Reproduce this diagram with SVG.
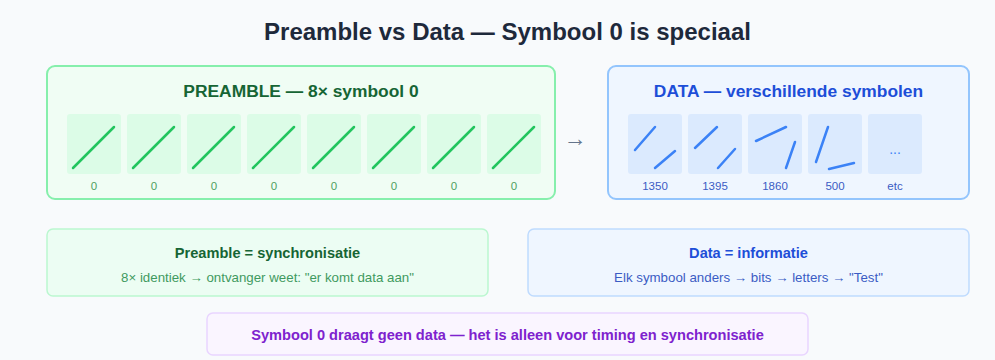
<svg xmlns="http://www.w3.org/2000/svg" width="995" height="360" viewBox="0 0 995 360">
  <style>
    text { font-family: "Liberation Sans", Arial, sans-serif; text-anchor: middle; }
    .title { font-size: 24px; font-weight: bold; fill: #1e293b; }
    .h-green { font-size: 17.4px; font-weight: bold; fill: #166534; }
    .h-blue { font-size: 17.4px; font-weight: bold; fill: #1d4ed8; }
    .cell-g { fill: #dcfce7; }
    .cell-b { fill: #dbeafe; }
    .ln-g { stroke: #22c55e; stroke-width: 2.5; stroke-linecap: round; }
    .ln-b { stroke: #3b82f6; stroke-width: 2.5; stroke-linecap: round; }
    .lab-g { font-size: 11.5px; fill: #4f9f62; }
    .lab-b { font-size: 11.5px; fill: #3b5cc4; }
    .sub-title-g { font-size: 14.6px; font-weight: bold; fill: #166534; }
    .sub-title-b { font-size: 14.6px; font-weight: bold; fill: #1d4ed8; }
    .sub-g { font-size: 13.3px; fill: #3f9a5f; }
    .sub-b { font-size: 13.3px; fill: #3b5cc4; }
  </style>
  <defs>
    <g id="sym0">
      <rect class="cell-g" width="54" height="60" rx="3"/>
      <line class="ln-g" x1="6" y1="54" x2="47" y2="13"/>
    </g>
  </defs>

  <rect width="995" height="360" fill="#f8fafc"/>

  <text class="title" x="507.5" y="40">Preamble vs Data — Symbool 0 is speciaal</text>

  <!-- preamble panel: eight identical symbols -->
  <g id="preamble">
    <rect x="47" y="66" width="508" height="133" rx="8" fill="#f0fdf4" stroke="#86efac" stroke-width="2"/>
    <text class="h-green" x="301" y="97">PREAMBLE — 8× symbool 0</text>
    <use href="#sym0" x="67" y="114"/>
    <use href="#sym0" x="127" y="114"/>
    <use href="#sym0" x="187" y="114"/>
    <use href="#sym0" x="247" y="114"/>
    <use href="#sym0" x="307" y="114"/>
    <use href="#sym0" x="367" y="114"/>
    <use href="#sym0" x="427" y="114"/>
    <use href="#sym0" x="487" y="114"/>
    <text class="lab-g" x="94" y="190">0</text>
    <text class="lab-g" x="154" y="190">0</text>
    <text class="lab-g" x="214" y="190">0</text>
    <text class="lab-g" x="274" y="190">0</text>
    <text class="lab-g" x="334" y="190">0</text>
    <text class="lab-g" x="394" y="190">0</text>
    <text class="lab-g" x="454" y="190">0</text>
    <text class="lab-g" x="514" y="190">0</text>
  </g>

  <!-- connector between the panels -->
  <g id="connectors">
    <text x="575" y="146" font-size="23" fill="#64748b">→</text>
  </g>

  <!-- data panel: differing symbols -->
  <g id="data">
    <rect x="608" y="66" width="361" height="133" rx="8" fill="#eff6ff" stroke="#93c5fd" stroke-width="2"/>
    <text class="h-blue" x="788.5" y="97">DATA — verschillende symbolen</text>
    <rect class="cell-b" x="628" y="114" width="54" height="60" rx="3"/>
    <rect class="cell-b" x="688" y="114" width="54" height="60" rx="3"/>
    <rect class="cell-b" x="748" y="114" width="54" height="60" rx="3"/>
    <rect class="cell-b" x="808" y="114" width="54" height="60" rx="3"/>
    <rect class="cell-b" x="868" y="114" width="54" height="60" rx="3"/>
    <line class="ln-b" x1="635" y1="150" x2="655" y2="127"/>
    <line class="ln-b" x1="655" y1="168" x2="675" y2="151"/>
    <line class="ln-b" x1="695" y1="148" x2="717" y2="127"/>
    <line class="ln-b" x1="718" y1="168" x2="735" y2="149"/>
    <line class="ln-b" x1="756" y1="141" x2="786" y2="127"/>
    <line class="ln-b" x1="786" y1="168" x2="795" y2="142"/>
    <line class="ln-b" x1="816" y1="162" x2="828" y2="127"/>
    <line class="ln-b" x1="829" y1="169" x2="854" y2="163"/>
    <text x="895" y="154" font-size="14" fill="#3b82f6">...</text>
    <text class="lab-b" x="655" y="190">1350</text>
    <text class="lab-b" x="715" y="190">1395</text>
    <text class="lab-b" x="775" y="190">1860</text>
    <text class="lab-b" x="835" y="190">500</text>
    <text class="lab-b" x="895" y="190">etc</text>
  </g>

  <g id="preamble-info">
    <rect x="47" y="229" width="441" height="67" rx="6" fill="#ecfdf3" stroke="#bbf7d0" stroke-width="1.5"/>
    <text class="sub-title-g" x="267.5" y="258">Preamble = synchronisatie</text>
    <text class="sub-g" x="267.5" y="282">8× identiek → ontvanger weet: "er komt data aan"</text>
  </g>

  <g id="data-info">
    <rect x="528" y="229" width="441" height="67" rx="6" fill="#eff6ff" stroke="#bfdbfe" stroke-width="1.5"/>
    <text class="sub-title-b" x="748.5" y="258">Data = informatie</text>
    <text class="sub-b" x="748.5" y="282">Elk symbool anders → bits → letters → "Test"</text>
  </g>

  <g id="note">
    <rect x="207" y="313" width="601" height="42" rx="6" fill="#faf5ff" stroke="#e9d5ff" stroke-width="1.5"/>
    <text x="507.5" y="340" font-size="14.6" font-weight="bold" fill="#7e22ce">Symbool 0 draagt geen data — het is alleen voor timing en synchronisatie</text>
  </g>
</svg>
